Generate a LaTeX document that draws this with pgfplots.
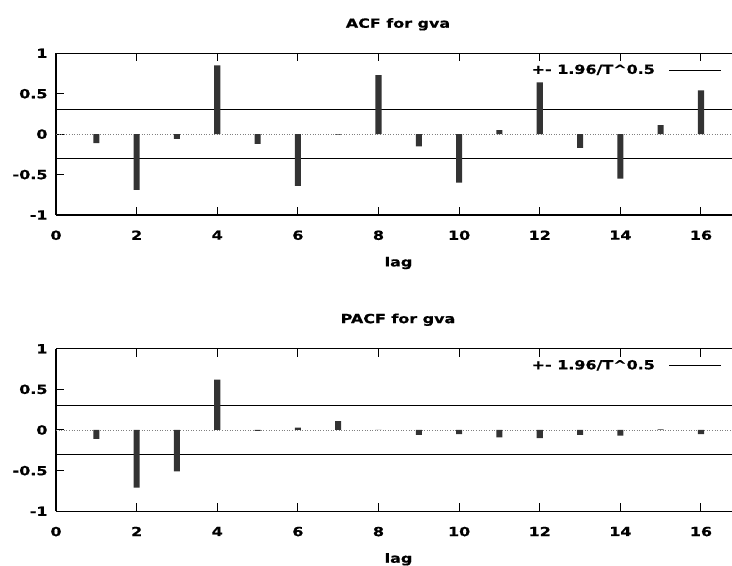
\documentclass[border=0pt]{standalone}
\usepackage{fontspec}
\setmainfont{DejaVu Sans}[FakeStretch=1.27, BoldFeatures={FakeBold=0.8}]
\usepackage{pgfplots}
\pgfplotsset{compat=1.18}
\definecolor{barc}{HTML}{333333}
\newcommand{\gfont}{\fontsize{12.6}{15}\selectfont\bfseries}
\pgfplotsset{
  acfstyle/.style={
    scale only axis, width=676bp,
    xmin=0, xmax=16.77, ymin=-1, ymax=1,
    axis x line*=box, axis y line*=left,
    axis line style={-, line width=1.1bp, black},
    xtick={0,2,4,6,8,10,12,14,16},
    xticklabels={0,2,4,6,8,10,12,14,16},
    ytick={-1,-0.5,0,0.5,1},
    yticklabels={-1,-0.5,0,0.5,1},
    tick align=inside, major tick length=8bp,
    tick style={line width=1bp, black},
    every tick label/.append style={font=\gfont},
    xticklabel style={yshift=-12bp},
    yticklabel style={xshift=-5bp},
    title style={at={(axis description cs:0.5,1)}, anchor=center, yshift=23bp, xshift=4bp, font=\gfont},
    xlabel style={at={(axis description cs:0.5,0)}, anchor=center, yshift=-48bp, xshift=4.5bp, font=\gfont},
    xlabel={lag},
    legend style={draw=none, fill=none, anchor=east, at={(rel axis cs:0.985,0.897)}, inner sep=0pt, font=\gfont},
    legend plot pos=right,
    legend image code/.code={\path (0bp,0bp); \draw[#1] (12bp,0bp) -- (64bp,0bp);},
  }
}
\begin{document}
\begin{tikzpicture}[x=1bp,y=1bp]
\useasboundingbox (0,0) rectangle (732,566);
% ACF
\begin{axis}[acfstyle, height=161.7bp, at={(56bp,351bp)}, anchor=south west, title={ACF for gva}]
\addplot[black, line width=0.8bp] coordinates {(0,0.30) (16.77,0.30)};
\addlegendentry{+- 1.96/T\^{}0.5}
\addplot[black, line width=0.8bp, forget plot] coordinates {(0,-0.30) (16.77,-0.30)};
\addplot[gray, dotted, line width=0.6bp, forget plot] coordinates {(0,0) (16.77,0)};
\addplot[ybar, bar width=0.15, fill=barc, draw=none, forget plot] coordinates {
(1,-0.11) (2,-0.69) (3,-0.06) (4,0.85) (5,-0.12) (6,-0.64) (7,-0.005) (8,0.73)
(9,-0.15) (10,-0.60) (11,0.05) (12,0.64) (13,-0.17) (14,-0.55) (15,0.11) (16,0.54)};
\end{axis}
% PACF
\begin{axis}[acfstyle, height=162.6bp, at={(56bp,54.7bp)}, anchor=south west, title={PACF for gva}]
\addplot[black, line width=0.8bp] coordinates {(0,0.30) (16.77,0.30)};
\addlegendentry{+- 1.96/T\^{}0.5}
\addplot[black, line width=0.8bp, forget plot] coordinates {(0,-0.30) (16.77,-0.30)};
\addplot[gray, dotted, line width=0.6bp, forget plot] coordinates {(0,0) (16.77,0)};
\addplot[ybar, bar width=0.15, fill=barc, draw=none, forget plot] coordinates {
(1,-0.11) (2,-0.71) (3,-0.51) (4,0.62) (5,-0.01) (6,0.03) (7,0.11) (8,0.003)
(9,-0.06) (10,-0.05) (11,-0.09) (12,-0.10) (13,-0.06) (14,-0.07) (15,0.008) (16,-0.05)};
\end{axis}
\end{tikzpicture}
\end{document}
